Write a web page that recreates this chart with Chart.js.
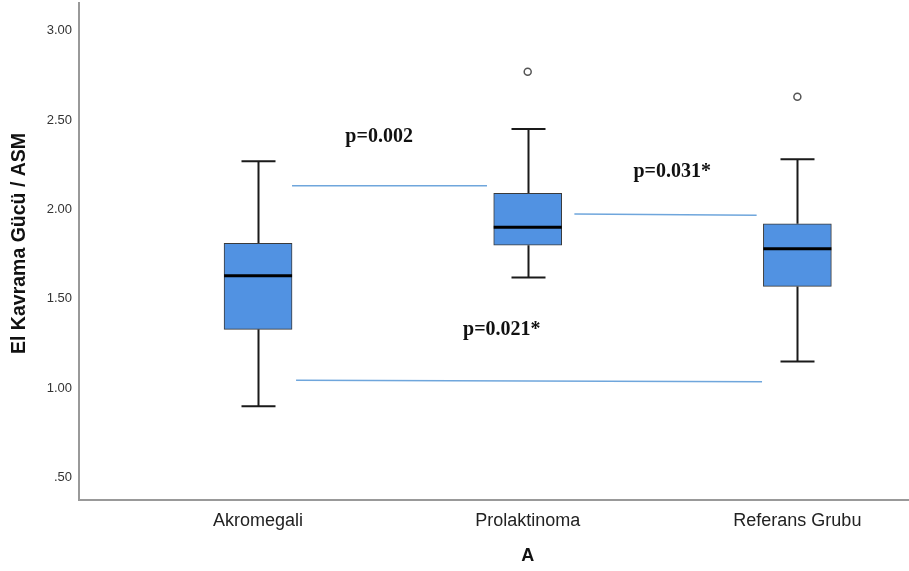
<!DOCTYPE html>
<html>
<head>
<meta charset="utf-8">
<title>El Kavrama Gücü / ASM</title>
<script src="https://cdn.jsdelivr.net/npm/chart.js@4.4.1/dist/chart.umd.min.js"></script>
<style>
  html, body { margin: 0; padding: 0; background: #ffffff; }
  canvas { display: block; }
</style>
</head>
<body>
<canvas id="chart" width="909" height="571"></canvas>
<script>
// Groups and their five-number summaries
const categories   = ['Akromegali', 'Prolaktinoma', 'Referans Grubu'];
const whiskerLow   = [0.90, 1.62, 1.15];
const quartile1    = [1.33, 1.80, 1.57];
const medians      = [1.63, 1.90, 1.78];
const quartile3    = [1.81, 2.09, 1.92];
const whiskerHigh  = [2.27, 2.45, 2.28];

// Outliers: group number (1-based) and value
const outlierGroup = [2, 3];
const outlierValue = [2.77, 2.63];

// Y axis ticks
const yTickValues = [0.5, 1.0, 1.5, 2.0, 2.5, 3.0];
const yTickLabels = ['.50', '1.00', '1.50', '2.00', '2.50', '3.00'];

// Axis titles
const xTitle = 'A';
const yTitle = 'El Kavrama Gücü / ASM';

// Pairwise comparison texts
const pValueTexts = ['p=0.002', 'p=0.031*', 'p=0.021*'];

// Placement of the comparison lines and their texts (x in group units, y in axis units)
const lineStartX = [1.126, 2.173, 1.141];
const lineEndX   = [1.849, 2.849, 2.869];
const lineStartY = [2.132, 1.974, 1.045];
const lineEndY   = [2.132, 1.968, 1.037];
const textX      = [1.449, 2.536, 1.904];
const textY      = [2.378, 2.179, 1.297];

const groupPos = categories.map((_, i) => i + 1);

const boxData = groupPos.map((x, i) => ({ x: x, y: [quartile1[i], quartile3[i]] }));
const outlierData = outlierGroup.map((g, i) => ({ x: g, y: outlierValue[i] }));
const comparisonSets = pValueTexts.map((t, i) => ({
  type: 'line',
  data: [{ x: lineStartX[i], y: lineStartY[i] }, { x: lineEndX[i], y: lineEndY[i] }],
  borderColor: '#6fa6dc',
  borderWidth: 1.5,
  pointRadius: 0,
  fill: false,
  order: 3
}));

const sansFamily = '"Liberation Sans", Arial, sans-serif';

// Whiskers, caps, medians, p-value texts and the axis titles
const boxExtras = {
  id: 'boxExtras',
  beforeDatasetsDraw(chart) {
    const { ctx, scales: { x, y } } = chart;
    const cap = 17;
    ctx.save();
    ctx.strokeStyle = '#1a1a1a';
    ctx.lineWidth = 2;
    groupPos.forEach((g, i) => {
      const cx = Math.round(x.getPixelForValue(g)) + 0.5;
      const yl = y.getPixelForValue(whiskerLow[i]);
      const yh = y.getPixelForValue(whiskerHigh[i]);
      const y1 = y.getPixelForValue(quartile1[i]);
      const y3 = y.getPixelForValue(quartile3[i]);
      ctx.beginPath();
      ctx.moveTo(cx, y3); ctx.lineTo(cx, yh);
      ctx.moveTo(cx, y1); ctx.lineTo(cx, yl);
      ctx.moveTo(cx - cap, yh); ctx.lineTo(cx + cap, yh);
      ctx.moveTo(cx - cap, yl); ctx.lineTo(cx + cap, yl);
      ctx.stroke();
    });
    ctx.restore();
  },
  afterDatasetsDraw(chart) {
    const { ctx, scales: { x, y } } = chart;
    const meta = chart.getDatasetMeta(0);
    ctx.save();
    ctx.strokeStyle = '#000000';
    ctx.lineWidth = 3;
    groupPos.forEach((g, i) => {
      const bar = meta.data[i];
      const half = bar.width / 2;
      const ym = y.getPixelForValue(medians[i]);
      ctx.beginPath();
      ctx.moveTo(bar.x - half, ym);
      ctx.lineTo(bar.x + half, ym);
      ctx.stroke();
    });
    ctx.fillStyle = '#111111';
    ctx.font = 'bold 20px "Liberation Serif", "Times New Roman", serif';
    ctx.textAlign = 'center';
    ctx.textBaseline = 'alphabetic';
    pValueTexts.forEach((t, i) => {
      ctx.fillText(t, x.getPixelForValue(textX[i]), y.getPixelForValue(textY[i]));
    });
    ctx.restore();
  },
  afterDraw(chart) {
    const { ctx, scales: { x, y } } = chart;
    ctx.save();
    ctx.fillStyle = '#111111';
    ctx.textAlign = 'center';
    ctx.textBaseline = 'middle';
    // x title sits under the middle group
    ctx.font = 'bold 18px ' + sansFamily;
    ctx.fillText(xTitle, x.getPixelForValue(groupPos[1]), y.bottom + 56);
    // y title, rotated
    ctx.font = 'bold 19.5px ' + sansFamily;
    ctx.translate(x.left - 59, y.getPixelForValue(1.81));
    ctx.rotate(-Math.PI / 2);
    ctx.fillText(yTitle, 0, 0);
    ctx.restore();
  }
};

new Chart(document.getElementById('chart'), {
  type: 'bar',
  data: {
    datasets: [
      {
        type: 'bar',
        data: boxData,
        backgroundColor: 'rgb(81, 146, 226)',
        borderColor: '#3a3a3a',
        borderWidth: 1,
        borderSkipped: false,
        barThickness: 68,
        order: 1
      },
      {
        type: 'scatter',
        data: outlierData,
        pointStyle: 'circle',
        pointRadius: 3.5,
        pointBackgroundColor: '#ffffff',
        pointBorderColor: '#555555',
        pointBorderWidth: 1.5,
        order: 0
      },
      ...comparisonSets
    ]
  },
  options: {
    responsive: false,
    devicePixelRatio: 1,
    animation: false,
    layout: { autoPadding: false, padding: { top: 3, right: 0, bottom: 0, left: 0 } },
    plugins: {
      legend: { display: false },
      tooltip: { enabled: false }
    },
    scales: {
      x: {
        type: 'linear',
        min: 0.336,
        max: 3.414,
        offset: false,
        grid: { display: false, drawTicks: false },
        border: { display: true, color: '#999999', width: 2 },
        afterBuildTicks(scale) { scale.ticks = groupPos.map(v => ({ value: v })); },
        afterFit(scale) {
          scale.height = 71;
          scale.paddingLeft = 0;
          scale.paddingRight = 0;
        },
        ticks: {
          padding: 10,
          color: '#222222',
          font: { family: sansFamily, size: 18 },
          callback: (v) => categories[v - 1]
        }
      },
      y: {
        type: 'linear',
        min: 0.376,
        max: 3.154,
        grid: { display: false, drawTicks: false },
        border: { display: true, color: '#999999', width: 2 },
        afterBuildTicks(scale) { scale.ticks = yTickValues.map(v => ({ value: v })); },
        afterFit(scale) {
          scale.width = 79;
          scale.paddingTop = 0;
          scale.paddingBottom = 0;
        },
        ticks: {
          padding: 7,
          color: '#333333',
          font: { family: sansFamily, size: 13 },
          callback: (v) => yTickLabels[yTickValues.indexOf(v)]
        }
      }
    }
  },
  plugins: [boxExtras]
});
</script>
</body>
</html>
